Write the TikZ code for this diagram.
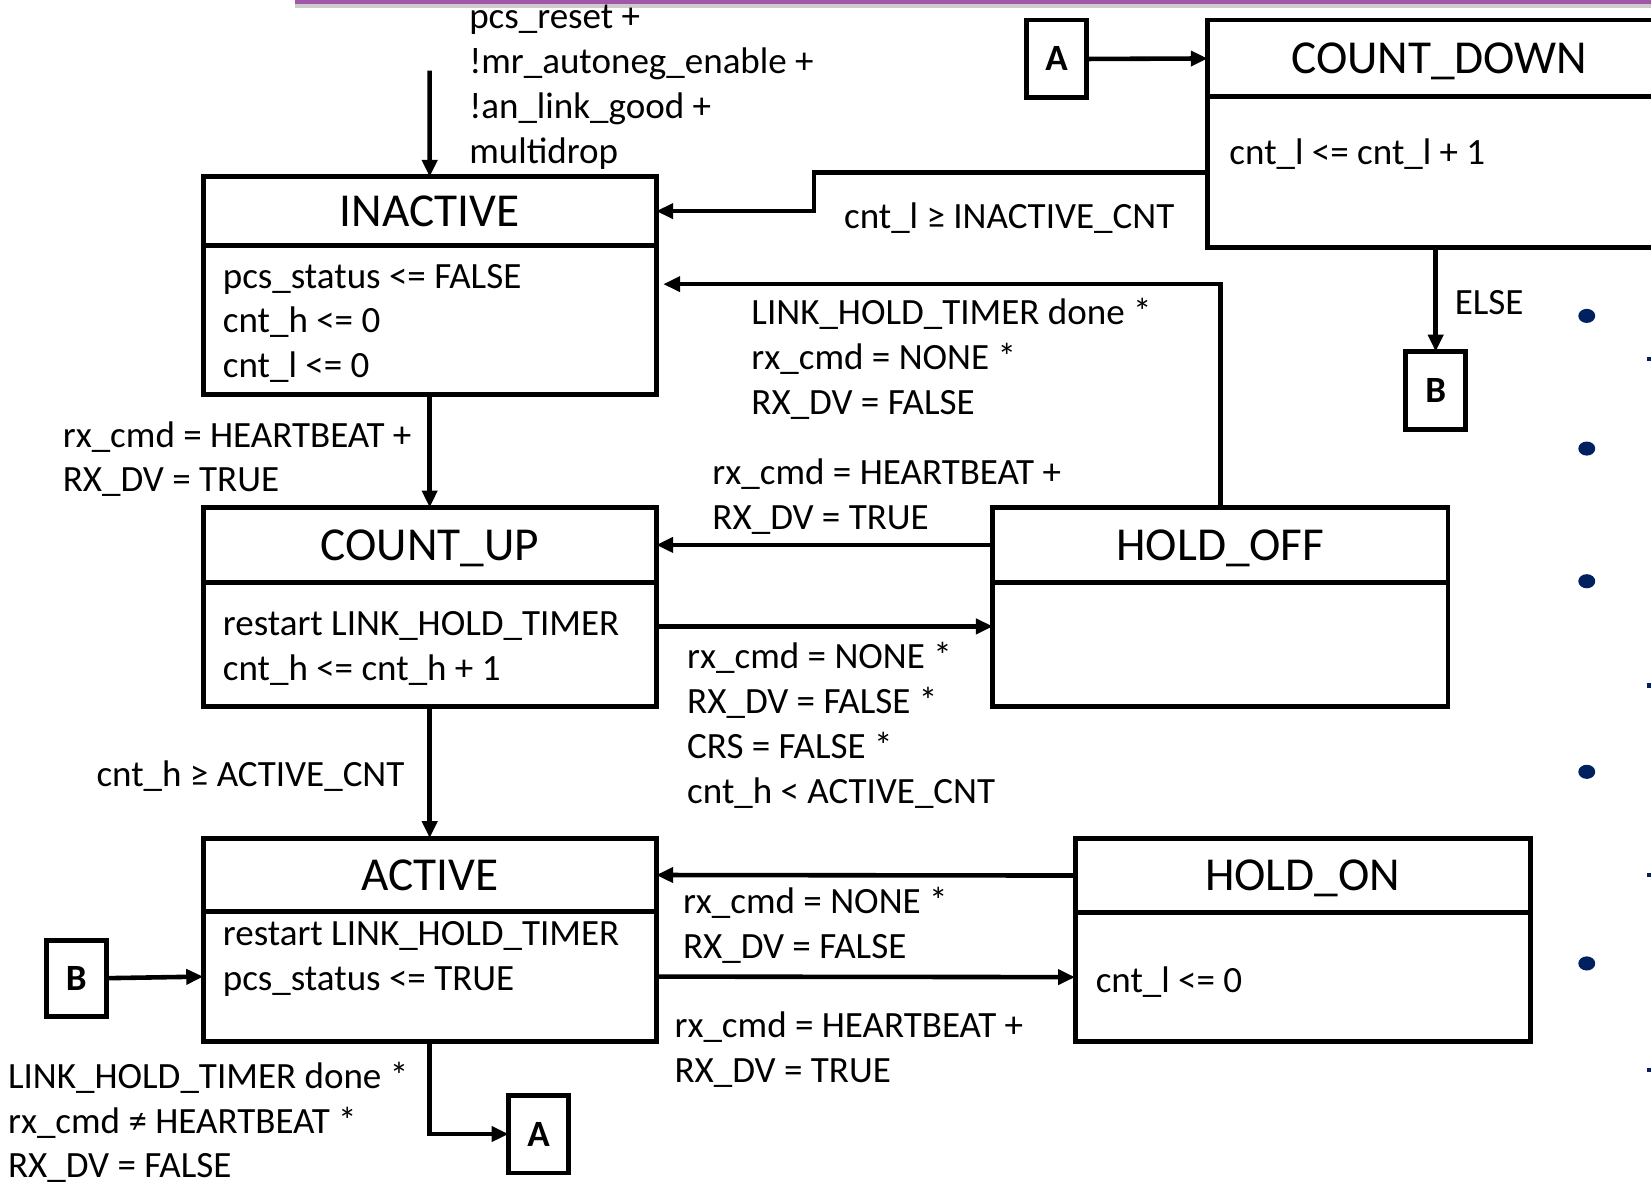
\documentclass[tikz,border=0pt]{standalone}
\usepackage{fontspec}
\setmainfont{Carlito}
\usetikzlibrary{positioning, arrows.meta}
\definecolor{slidepurple}{HTML}{A256A6}
\definecolor{bulletblue}{HTML}{002060}

\begin{document}
\begin{tikzpicture}[x=0.2985pt, y=-0.2985pt,
    statebox/.style={draw, line width=1.4pt, outer sep=0pt, inner sep=0pt},
    statehead/.style={statebox, text height=8.6pt, text depth=0pt, font=\fontsize{13.4}{16}\selectfont},
    statebody/.style={statebox},
    jumpbox/.style={statebox, minimum width=17pt, minimum height=22.1pt, font=\fontsize{10.5}{12.7}\selectfont\bfseries},
    lbl/.style={align=left, inner sep=0pt, anchor=west, yshift=-0.9pt, font=\fontsize{10.5}{12.7}\selectfont},
    conn/.style={line width=1.3pt, -{Triangle[length=4.8pt, width=4.2pt]}}]

    \clip (0,0) rectangle (1568,1126);
    \fill[white] (0,0) rectangle (1568,1126);
    \fill[black!20] (280,3) rectangle (1568,8);
    \fill[slidepurple] (280,-5) rectangle (1568,4);

    % states
    \node[statehead, minimum width=128.4pt, minimum height=19.4pt, anchor=north west] (inactive) at (193,168) {INACTIVE};
    \node[statebody, minimum width=128.4pt, minimum height=42.4pt, below=0pt of inactive] (inactiveb) {};
    \node[statehead, minimum width=128.4pt, minimum height=21.2pt, anchor=north west] (countup) at (193,482) {COUNT\_UP};
    \node[statebody, minimum width=128.4pt, minimum height=35.2pt, below=0pt of countup] (countupb) {};
    \node[statehead, minimum width=128.4pt, minimum height=20.9pt, anchor=north west] (active) at (193,796) {ACTIVE};
    \node[statebody, minimum width=128.4pt, minimum height=36.7pt, below=0pt of active] (activeb) {};
    \node[statehead, minimum width=129pt, minimum height=21.2pt, anchor=north west] (holdoff) at (943,482) {HOLD\_OFF};
    \node[statebody, minimum width=129pt, minimum height=35.2pt, below=0pt of holdoff] (holdoffb) {};
    \node[statehead, minimum width=129pt, minimum height=21.2pt, anchor=north west] (holdon) at (1021,796) {HOLD\_ON};
    \node[statebody, minimum width=129pt, minimum height=36.4pt, below=0pt of holdon] (holdonb) {};
    \node[statehead, minimum width=131.3pt, minimum height=21.8pt, anchor=north west] (countdown) at (1147,19) {COUNT\_DOWN};
    \node[statebody, minimum width=131.3pt, minimum height=42.7pt, below=0pt of countdown] (countdownb) {};

    % state actions
    \node[lbl] (inactivet) at (211,304) {pcs\_status <= FALSE\\cnt\_h <= 0\\cnt\_l <= 0};
    \node[lbl] (countupt) at (211,613) {restart LINK\_HOLD\_TIMER\\cnt\_h <= cnt\_h + 1};
    \node[lbl] (activet) at (211,908) {restart LINK\_HOLD\_TIMER\\pcs\_status <= TRUE};
    \node[lbl] (holdont) at (1040,930) {cnt\_l <= 0};
    \node[lbl] (countdownt) at (1167,143) {cnt\_l <= cnt\_l + 1};

    % off-page connectors
    \node[jumpbox] (a1) at (1003.5,56) {A};
    \node[jumpbox] (b1) at (1363.5,371) {B};
    \node[jumpbox, minimum height=21.5pt] (b2) at (72.5,929) {B};
    \node[jumpbox] (a2) at (511.5,1077) {A};

    \coordinate (reset) at (408,67);

    % transitions
    \draw[conn] (reset) -- (inactive.north);
    \draw[conn] (a1.east) -- (countdown.west);
    \draw[conn] (countdownb.west) -- ++(-374,0) |- (inactive.east);
    \draw[conn] (b1.north |- countdownb.south) -- (b1.north);
    \draw[conn, shorten >=2pt] (holdoff.north) |- ([yshift=-11pt]inactiveb.north east);
    \draw[conn] (inactiveb.south) -- (countup.north);
    \draw[conn] (holdoff.west) -- (countup.east);
    \draw[conn] ([yshift=5.1pt]countupb.east) -- ([yshift=5.1pt]holdoffb.west);
    \draw[conn] (countupb.south) -- (active.north);
    \draw[conn] (holdon.west) -- (active.east);
    \draw[conn] (activeb.east) -- (holdonb.west);
    \draw[conn] (b2.east) -- (activeb.west);
    \draw[conn] (activeb.south) |- (a2.west);

    % conditions
    \node[lbl] (resetl) at (445,80) {pcs\_reset +\\!mr\_autoneg\_enable +\\!an\_link\_good +\\multidrop};
    \node[lbl] (inactcntl) at (801,204) {cnt\_l ≥ INACTIVE\_CNT};
    \node[lbl] (elsel) at (1381,284) {ELSE};
    \node[lbl] (lhtl) at (713,338) {LINK\_HOLD\_TIMER done *\\rx\_cmd = NONE *\\RX\_DV = FALSE};
    \node[lbl] (hbl1) at (59,433) {rx\_cmd = HEARTBEAT +\\RX\_DV = TRUE};
    \node[lbl] (hbl2) at (676,469) {rx\_cmd = HEARTBEAT +\\RX\_DV = TRUE};
    \node[lbl] (nonel1) at (652,686) {rx\_cmd = NONE *\\RX\_DV = FALSE *\\CRS = FALSE *\\cnt\_h < ACTIVE\_CNT};
    \node[lbl] (actcntl) at (91,734) {cnt\_h ≥ ACTIVE\_CNT};
    \node[lbl] (nonel2) at (648,876) {rx\_cmd = NONE *\\RX\_DV = FALSE};
    \node[lbl] (hbl3) at (640,994) {rx\_cmd = HEARTBEAT +\\RX\_DV = TRUE};
    \node[lbl] (lhtl2) at (7,1063) {LINK\_HOLD\_TIMER done *\\rx\_cmd ≠ HEARTBEAT *\\RX\_DV = FALSE};

    % slide bullets
    \foreach \y in {300,426,552,733,915}
        \fill[bulletblue] (1507,\y) ellipse [x radius=2.4pt, y radius=2pt];
    \foreach \y in {341,651,831,1016}
        \fill[bulletblue] (1564,\y-2) rectangle (1568,\y+2);
\end{tikzpicture}
\end{document}
